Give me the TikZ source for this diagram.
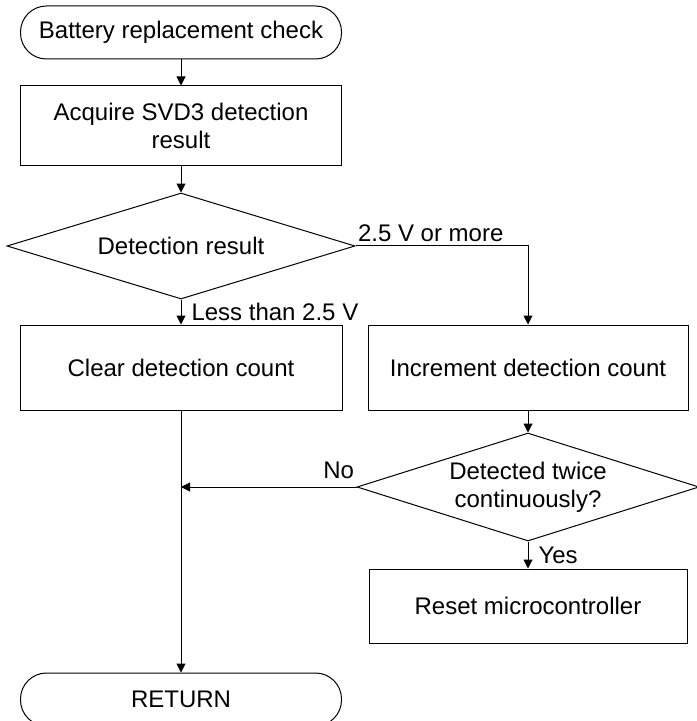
\documentclass[tikz,border=0pt]{standalone}
\usepackage{fontspec}
\setmainfont{Liberation Sans}
\usetikzlibrary{arrows.meta, shapes.geometric, calc}

\begin{document}
\begin{tikzpicture}[
  x=0.5pt, y=-0.5pt,
  line width=0.5pt,
  box/.style={draw, font=\fontsize{12}{14}\selectfont, align=center, inner sep=2pt},
  term/.style={draw, rounded corners=13pt, minimum width=160.5pt, minimum height=26.5pt, font=\fontsize{12}{14}\selectfont, inner sep=0pt},
  decision/.style={draw, diamond, inner sep=0pt, font=\fontsize{12}{14}\selectfont, align=center},
  flow/.style={draw, -{Triangle[length=4.5pt, width=4.5pt]}},
  lbl/.style={font=\fontsize{12}{14}\selectfont, inner sep=1pt},
]
  \useasboundingbox (0,0) rectangle (696,721);

  % Nodes
  \node[term] (start) at (181,32.5) {Battery replacement check};
  \node[box, minimum width=160.5pt, minimum height=40pt] (acquire) at (181,126) {Acquire SVD3 detection\\result};
  \node[decision, shape aspect=3.28, minimum width=174pt, minimum height=53pt] (result) at (181,246) {Detection result};
  \node[box, minimum width=161pt, minimum height=42.5pt] (clear) at (181,367.5) {Clear detection count};
  \node[box, minimum width=160pt, minimum height=42.5pt] (incr) at (528,367.5) {Increment detection count};
  \node[decision, shape aspect=3.17, minimum width=171pt, minimum height=54pt] (twice) at (528,487) {Detected twice\\continuously?};
  \node[box, minimum width=159pt, minimum height=37pt] (reset) at (528,606) {Reset microcontroller};
  \node[term] (ret) at (181,699.5) {RETURN};
  \coordinate (join) at (clear.south |- twice.west);

  % Edges
  \draw[flow] (start) -- (acquire);
  \draw[flow] (acquire) -- (result);
  \draw[flow] (result.south) -- node[lbl, right, xshift=4pt]{Less than 2.5 V} (clear.north);
  \draw[flow] (result.east) -| (incr.north);
  \node[lbl, above right, yshift=1pt] at (result.east) {2.5 V or more};
  \draw[flow] (incr) -- (twice);
  \draw[flow] (twice.south) -- node[lbl, right, xshift=4pt]{Yes} (reset.north);
  \draw[flow] (twice.west) -- (join);
  \node[lbl, above left, yshift=3pt] at (twice.west) {No};
  \draw[flow] (clear) -- (ret);
\end{tikzpicture}
\end{document}
